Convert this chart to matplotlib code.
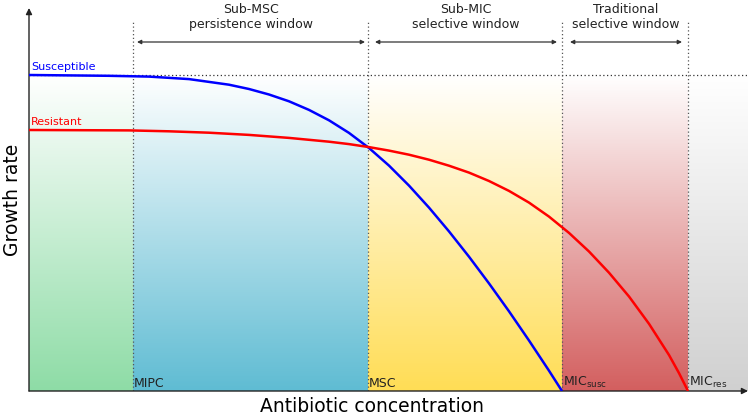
import numpy as np
import matplotlib
matplotlib.use("Agg")
import matplotlib.pyplot as plt
from matplotlib.colors import LinearSegmentedColormap

# ---- data (arbitrary units) ----
sus_x = [0.0, 0.8, 1.2, 1.6, 2.0, 2.2, 2.4, 2.6, 2.8, 3.0, 3.2, 3.4, 3.6, 3.8,
         4.0, 4.2, 4.4, 4.6, 4.8, 5.0, 5.2, 5.33]
sus_y = [3.160, 3.152, 3.144, 3.119, 3.063, 3.020, 2.965, 2.897, 2.811, 2.707, 2.581, 2.430,
         2.254, 2.054, 1.834, 1.596, 1.343, 1.076, 0.797, 0.505, 0.203, 0.000]
res_x = [0.0, 1.0, 1.4, 1.8, 2.2, 2.6, 3.0, 3.2, 3.4, 3.6, 3.8, 4.0, 4.2, 4.4,
         4.6, 4.8, 5.0, 5.2, 5.4, 5.6, 5.8, 6.0, 6.2, 6.4, 6.5, 6.59]
res_y = [2.610, 2.606, 2.597, 2.583, 2.561, 2.531, 2.493, 2.469, 2.439, 2.404, 2.363, 2.313,
         2.253, 2.184, 2.100, 2.001, 1.884, 1.744, 1.581, 1.395, 1.183, 0.945, 0.672, 0.360,
         0.179, 0.000]

thresholds = [1.04, 3.39, 5.33, 6.59]
threshold_labels = ["MIPC", "MSC", r"MIC$_{\mathregular{susc}}$", r"MIC$_{\mathregular{res}}$"]
region_edges = [0.0, 1.04, 3.39, 5.33, 6.59, 7.19]
region_colors = ["#8edca6", "#5fbcd3", "#ffdd55", "#d35f5f", "#d0d0d0"]
window_titles = ["Sub-MSC\npersistence window", "Sub-MIC\nselective window", "Traditional\nselective window"]
window_spans = [(1.08, 3.36), (3.46, 5.28), (5.41, 6.53)]

top_level = 3.16
xmax, ymax = 7.19, 3.83

fig = plt.figure(figsize=(7.48, 4.16), dpi=100)
ax = fig.add_axes([29/748, 25/416, (748-29)/748, (391-8)/416])
ax.set_xlim(0, xmax)
ax.set_ylim(0, ymax)
for s in ax.spines.values():
    s.set_visible(False)
ax.set_xticks([])
ax.set_yticks([])

# gradient backgrounds
grad = np.linspace(0, 1, 256).reshape(-1, 1)
for i, col in enumerate(region_colors):
    cmap = LinearSegmentedColormap.from_list("g%d" % i, ["#ffffff", col])
    ax.imshow(grad, cmap=cmap, vmin=0, vmax=1, aspect="auto",
              extent=[region_edges[i], region_edges[i+1], 0, top_level],
              origin="upper", zorder=0)

# dotted reference lines
ax.plot([0, xmax], [top_level, top_level], ls=(0, (1, 2)), color="#333333", lw=0.9, zorder=2)
for t in thresholds:
    ax.plot([t, t], [0, 3.70], ls=(0, (1, 2)), color="#555555", lw=0.9, zorder=2)

# curves
ax.plot(sus_x, sus_y, color="#0000ff", lw=1.8, zorder=4, solid_capstyle="butt")
ax.plot(res_x, res_y, color="#ff0000", lw=1.8, zorder=4, solid_capstyle="butt")

ax.text(0.02, 3.19, "Susceptible", color="#0000ff", fontsize=8, va="bottom", ha="left")
ax.text(0.02, 2.64, "Resistant", color="#ff0000", fontsize=8, va="bottom", ha="left")

# threshold labels
for t, lab in zip(thresholds, threshold_labels):
    ax.text(t + 0.01, 0.01, lab, fontsize=9, color="#222222", va="bottom", ha="left", zorder=5)

# windows
for (a, b), title in zip(window_spans, window_titles):
    ax.annotate("", xy=(a, 3.49), xytext=(b, 3.49),
                arrowprops=dict(arrowstyle="<|-|>", color="#333333", lw=0.9,
                                mutation_scale=6, shrinkA=0, shrinkB=0),
                annotation_clip=False)
    ax.text((a + b) / 2, 3.74, title, fontsize=9, color="#222222", ha="center", va="center",
            linespacing=1.25)

# axes with arrows
ax.annotate("", xy=(0, ymax), xytext=(0, 0),
            arrowprops=dict(arrowstyle="-|>", color="#222222", lw=1, mutation_scale=9,
                            shrinkA=0, shrinkB=0), annotation_clip=False)
ax.annotate("", xy=(xmax, 0), xytext=(0, 0),
            arrowprops=dict(arrowstyle="-|>", color="#222222", lw=1, mutation_scale=9,
                            shrinkA=0, shrinkB=0), annotation_clip=False)

fig.text(12/748, 1 - 200/416, "Growth rate", rotation=90, fontsize=13.5, ha="center", va="center")
fig.text(372/748, 1 - 406/416, "Antibiotic concentration", fontsize=13.5, ha="center", va="center")

fig.savefig("out.png", dpi=100)
